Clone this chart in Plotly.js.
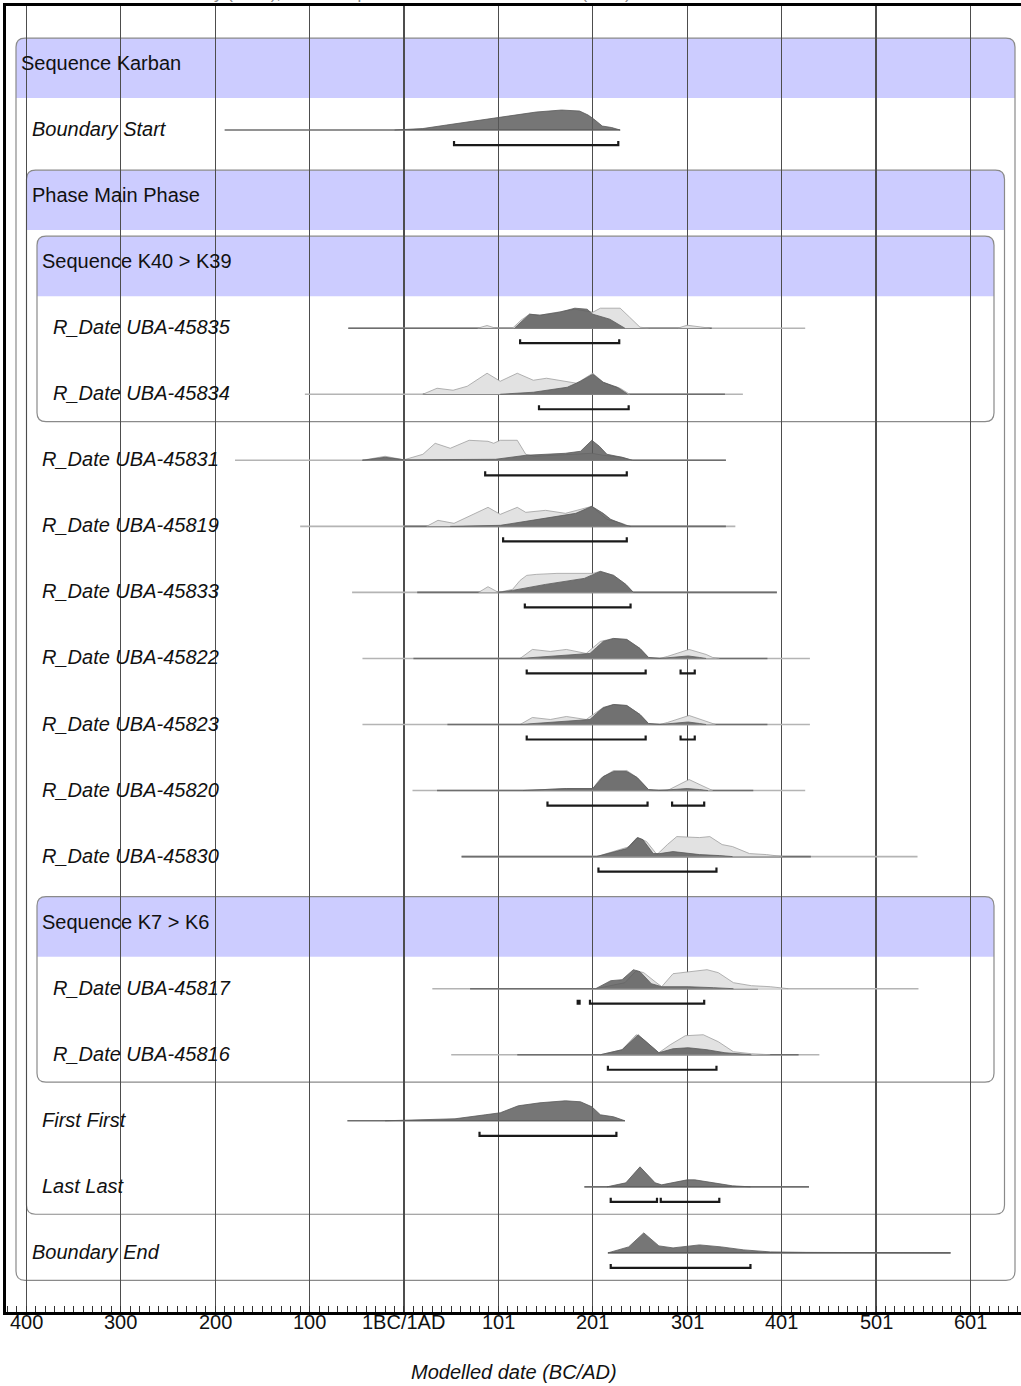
<!DOCTYPE html>
<html><head><meta charset="utf-8">
<script src="https://cdn.plot.ly/plotly-3.0.1.min.js"></script>
<style>html,body{margin:0;padding:0;background:#fff;} #chart{width:1021px;height:1386px;}</style>
</head><body><div id="chart"></div>
<script>
// ---------- axis ticks ----------
const tickVals = [-400, -300, -200, -100, 0, 100, 200, 300, 400, 500, 600];
const tickText = ['400', '300', '200', '100', '1BC/1AD', '101', '201', '301', '401', '501', '601'];

// ---------- row labels ----------
const rowLabels = ['Sequence Karban', 'Boundary Start', 'Phase Main Phase', 'Sequence K40 > K39',
  'R_Date UBA-45835', 'R_Date UBA-45834', 'R_Date UBA-45831', 'R_Date UBA-45819', 'R_Date UBA-45833',
  'R_Date UBA-45822', 'R_Date UBA-45823', 'R_Date UBA-45820', 'R_Date UBA-45830', 'Sequence K7 > K6',
  'R_Date UBA-45817', 'R_Date UBA-45816', 'First First', 'Last Last', 'Boundary End'];
const rowLevels = [0, 1, 1, 2, 3, 3, 2, 2, 2, 2, 2, 2, 2, 2, 3, 3, 2, 2, 1];
const rowIsHeader = [true, false, true, true, false, false, false, false, false, false, false, false, false, true, false, false, false, false, false];

// groups: [header row, last row, nesting level]
const groupHeaderRows = [0, 2, 3, 13];
const groupLastRows = [18, 17, 5, 15];
const groupLevels = [0, 1, 2, 2];

// ---------- distributions (year, relative density) ----------
const startX = [-10, 20, 45, 75, 100, 115, 140, 167, 186, 195, 201, 210, 220, 229];
const startP = [0, 1.5, 5, 9, 13, 15, 18, 20, 19, 15, 11, 4, 2.5, 0];
const startRange = [-190, 229];
const startHpd = [[53, 227]];

const d45835PriorX = [78, 88, 97, 115, 124, 133, 144, 165, 181, 194, 200, 208, 229, 239, 250, 260, 290, 300, 315, 324];
const d45835PriorP = [0, 2.7, 0, 0, 8, 14, 13, 16, 19, 17, 16, 20, 20, 11, 1, 0, 0, 3, 1, 0];
const d45835PostX = [117, 133, 144, 165, 181, 194, 200, 218, 234];
const d45835PostP = [0, 14, 13, 16, 20, 19, 14, 9, 0];
const d45835PriorRange = [-59, 425];
const d45835PostRange = [-59, 326];
const d45835Hpd = [[123, 228]];

const d45834PriorX = [20, 35, 52, 67, 88, 102, 120, 137, 151, 173, 183, 200, 211, 221, 229, 239];
const d45834PriorP = [0, 6, 4, 8, 21, 13, 21, 14, 16, 13, 11, 21, 12, 8, 6, 0];
const d45834PostX = [102, 137, 173, 187, 200, 211, 226, 237];
const d45834PostP = [0, 2, 7, 13, 20, 12, 7, 0];
const d45834PriorRange = [-105, 359];
const d45834PostRange = [20, 340];
const d45834Hpd = [[143, 238]];

const d45831PriorX = [-44, -20, 0, 20, 33, 49, 69, 89, 95, 102, 120, 129, 138, 171, 199, 211, 231, 242];
const d45831PriorP = [0, 4, 0.5, 6, 17, 12, 20, 19, 17, 20, 20, 6, 4, 6, 7, 5, 3, 0];
const d45831PostX = [-44, -20, 0, 97, 129, 171, 187, 199, 207, 215, 231, 242];
const d45831PostP = [0, 3, 0.5, 1, 5, 7, 9, 20, 14, 6, 3, 0];
const d45831PriorRange = [-179, 341];
const d45831PostRange = [-44, 341];
const d45831Hpd = [[86, 236]];

const d45819PriorX = [24, 36, 53, 69, 89, 102, 120, 129, 150, 171, 199, 215, 231, 239];
const d45819PriorP = [0, 6, 3, 10, 19, 12, 19, 14, 16, 13, 20, 7, 3, 0];
const d45819PostX = [49, 102, 129, 158, 182, 199, 211, 219, 235, 240];
const d45819PostP = [0, 1, 5, 9, 13, 20, 13, 7, 1, 0];
const d45819PriorRange = [-110, 351];
const d45819PostRange = [0, 341];
const d45819Hpd = [[105, 236]];

const d45833PriorX = [79, 89, 100, 115, 123, 130, 140, 162, 194, 200, 208, 222, 235, 243];
const d45833PriorP = [0, 5.7, 0, 3, 12, 17, 18, 19, 19, 19, 21, 17, 8, 0];
const d45833PostX = [100, 115, 150, 191, 208, 222, 235, 243];
const d45833PostP = [0, 2, 8, 14, 21, 17, 8, 0];
const d45833PriorRange = [-55, 395];
const d45833PostRange = [14, 395];
const d45833Hpd = [[128, 240]];

const d45822PriorX = [123, 136, 155, 172, 193, 208, 222, 236, 250, 259, 271, 279, 302, 320, 327, 334];
const d45822PriorP = [0, 9, 7, 9, 5, 17, 20, 19, 10, 1, 0, 2, 9, 4, 1, 0];
const d45822PostX = [123, 155, 197, 204, 211, 222, 236, 250, 259, 271, 290, 301, 313, 320];
const d45822PostP = [0, 2, 5, 11, 17, 20, 19, 10, 1, 0, 1.5, 2.5, 1, 0];
const d45822PriorRange = [-44, 430];
const d45822PostRange = [10, 385];
const d45822Hpd = [[130, 256], [293, 308]];

const d45823PriorX = [123, 136, 155, 172, 193, 208, 222, 236, 250, 259, 271, 279, 302, 320, 330];
const d45823PriorP = [0, 7, 5, 8, 5, 15, 20, 19, 10, 1, 0, 2, 9, 3, 0];
const d45823PostX = [123, 155, 197, 204, 211, 222, 236, 250, 259, 271, 290, 301, 313, 320];
const d45823PostP = [0, 2, 5, 11, 17, 20, 19, 10, 1, 0, 1.5, 2.5, 1, 0];
const d45823PriorRange = [-44, 430];
const d45823PostRange = [46, 385];
const d45823Hpd = [[130, 256], [293, 308]];

const d45820PriorX = [126, 172, 200, 208, 222, 236, 247, 259, 279, 302, 320, 327];
const d45820PriorP = [0, 2, 2, 12, 20, 20, 13, 1, 0, 11, 3, 0];
const d45820PostX = [126, 172, 200, 211, 222, 236, 247, 259, 270, 290, 300, 313, 322];
const d45820PostP = [0, 2, 2, 14, 19, 19, 13, 1, 0, 1, 2, 1, 0];
const d45820PriorRange = [9, 425];
const d45820PostRange = [35, 370];
const d45820Hpd = [[152, 258], [284, 318]];

const d45830PriorX = [204, 221, 239, 248, 257, 268, 279, 289, 313, 324, 337, 348, 366, 384, 401];
const d45830PriorP = [0, 5, 10, 19, 15, 2, 12, 20, 19, 20, 12, 10, 3, 2, 0];
const d45830PostX = [204, 221, 236, 247, 253, 264, 271, 285, 300, 313, 334, 348];
const d45830PostP = [0, 4, 8, 19, 17, 3, 3, 5, 3, 2, 1, 0];
const d45830PriorRange = [61, 544];
const d45830PostRange = [61, 431];
const d45830Hpd = [[206, 331]];

const d45817PriorX = [203, 222, 234, 246, 254, 266, 273, 285, 301, 321, 333, 349, 368, 388, 407];
const d45817PriorP = [0, 4, 6, 18, 16, 7, 2, 15, 17, 19, 16, 6, 3, 2, 0];
const d45817PostX = [203, 219, 231, 243, 250, 262, 273, 301, 328, 349];
const d45817PostP = [0, 8, 9, 19, 17, 5, 2, 2, 1, 0];
const d45817PriorRange = [30, 545];
const d45817PostRange = [70, 375];
const d45817Hpd = [[184, 186], [197, 318]];

const d45816PriorX = [208, 231, 246, 254, 270, 282, 298, 317, 333, 349, 368, 388];
const d45816PriorP = [0, 5, 20, 15, 2, 10, 19, 20, 13, 3, 1, 0];
const d45816PostX = [208, 231, 248, 258, 270, 285, 301, 321, 340, 368];
const d45816PostP = [0, 5, 20, 12, 2, 6, 7, 5, 2, 0];
const d45816PriorRange = [50, 440];
const d45816PostRange = [120, 418];
const d45816Hpd = [[216, 331]];

const firstX = [-20, 54, 86, 102, 121, 144, 171, 187, 199, 208, 222, 234];
const firstP = [0, 2, 6, 8, 15, 18, 20, 19, 14, 6, 4, 0];
const firstRange = [-60, 234];
const firstHpd = [[80, 225]];

const lastX = [215, 235, 250, 266, 273, 300, 308, 328, 348, 367];
const lastP = [0, 4, 20, 4, 2, 7, 7, 4, 1, 0];
const lastRange = [191, 429];
const lastHpd = [[219, 268], [272, 334]];

const endX = [216, 238, 254, 270, 285, 313, 336, 360, 388, 426, 579];
const endP = [0, 6, 20, 7, 5, 8, 6, 3, 1, 0.5, 0];
const endRange = [216, 579];
const endHpd = [[219, 367]];

// table built from the arrays above
const dists = [
  {row: 1, post: [startX, startP], postRange: startRange, hpd: startHpd},
  {row: 4, prior: [d45835PriorX, d45835PriorP], post: [d45835PostX, d45835PostP], priorRange: d45835PriorRange, postRange: d45835PostRange, hpd: d45835Hpd},
  {row: 5, prior: [d45834PriorX, d45834PriorP], post: [d45834PostX, d45834PostP], priorRange: d45834PriorRange, postRange: d45834PostRange, hpd: d45834Hpd},
  {row: 6, prior: [d45831PriorX, d45831PriorP], post: [d45831PostX, d45831PostP], priorRange: d45831PriorRange, postRange: d45831PostRange, hpd: d45831Hpd},
  {row: 7, prior: [d45819PriorX, d45819PriorP], post: [d45819PostX, d45819PostP], priorRange: d45819PriorRange, postRange: d45819PostRange, hpd: d45819Hpd},
  {row: 8, prior: [d45833PriorX, d45833PriorP], post: [d45833PostX, d45833PostP], priorRange: d45833PriorRange, postRange: d45833PostRange, hpd: d45833Hpd},
  {row: 9, prior: [d45822PriorX, d45822PriorP], post: [d45822PostX, d45822PostP], priorRange: d45822PriorRange, postRange: d45822PostRange, hpd: d45822Hpd},
  {row: 10, prior: [d45823PriorX, d45823PriorP], post: [d45823PostX, d45823PostP], priorRange: d45823PriorRange, postRange: d45823PostRange, hpd: d45823Hpd},
  {row: 11, prior: [d45820PriorX, d45820PriorP], post: [d45820PostX, d45820PostP], priorRange: d45820PriorRange, postRange: d45820PostRange, hpd: d45820Hpd},
  {row: 12, prior: [d45830PriorX, d45830PriorP], post: [d45830PostX, d45830PostP], priorRange: d45830PriorRange, postRange: d45830PostRange, hpd: d45830Hpd},
  {row: 14, prior: [d45817PriorX, d45817PriorP], post: [d45817PostX, d45817PostP], priorRange: d45817PriorRange, postRange: d45817PostRange, hpd: d45817Hpd},
  {row: 15, prior: [d45816PriorX, d45816PriorP], post: [d45816PostX, d45816PostP], priorRange: d45816PriorRange, postRange: d45816PostRange, hpd: d45816Hpd},
  {row: 16, post: [firstX, firstP], postRange: firstRange, hpd: firstHpd},
  {row: 17, post: [lastX, lastP], postRange: lastRange, hpd: lastHpd},
  {row: 18, post: [endX, endP], postRange: endRange, hpd: endHpd}
];

// ---------- styling / geometry constants ----------
const FONT = 'Liberation Sans, Arial, sans-serif';
const ROW_PX = 66.05;          // pixels per row
const HSCALE = 1 / ROW_PX;     // density units -> row units
const BASE_OFF = 0.015;
const HPD_OFF = 15 / ROW_PX;
const HPD_TICK = 4 / ROW_PX;
const PLOT_L = 6, PLOT_W = 1015, PLOT_H = 1306;
const px2paper = p => (p - PLOT_L) / PLOT_W;

const traces = [];
function rangeTrace(r, row, color) {
  const b = row + BASE_OFF;
  return {x: [r[0], r[1]], y: [b, b], mode: 'lines', line: {color: color, width: 1.6}, hoverinfo: 'skip'};
}
function distTrace(d, row, fill, lc) {
  const b = row + BASE_OFF;
  return {x: d[0], y: d[1].map(p => b - p * HSCALE), mode: 'lines', fill: 'toself', fillcolor: fill,
    line: {color: lc, width: 0.8}, hoverinfo: 'skip'};
}
function hpdTrace(ranges, row) {
  const yb = row + BASE_OFF + HPD_OFF;
  const xs = [], ys = [];
  ranges.forEach(r => {
    xs.push(r[0], r[0], r[1], r[1], null);
    ys.push(yb - HPD_TICK, yb, yb, yb - HPD_TICK, null);
  });
  return {x: xs, y: ys, mode: 'lines', line: {color: '#1a1a1a', width: 2.2}, hoverinfo: 'skip', connectgaps: false};
}
dists.forEach(d => {
  if (d.priorRange) traces.push(rangeTrace(d.priorRange, d.row, '#b4b4b4'));
  if (d.postRange) traces.push(rangeTrace(d.postRange, d.row, '#6e6e6e'));
  if (d.prior) traces.push(distTrace(d.prior, d.row, '#e2e2e2', '#a0a0a0'));
  if (d.post) traces.push(distTrace(d.post, d.row, 'rgba(88,88,88,0.82)', '#5a5a5a'));
  traces.push(hpdTrace(d.hpd, d.row));
});

// ---------- group boxes ----------
const shapes = [];
const RX = 9 / PLOT_W, RY = 9 / ROW_PX;
groupHeaderRows.forEach((h, k) => {
  const lvl = groupLevels[k];
  const x0 = px2paper(16 + 10.5 * lvl), x1 = px2paper(1015 - 10.5 * lvl);
  const y0 = h - 0.378, yb = h + 0.53, y1 = groupLastRows[k] + 0.43;
  shapes.push({type: 'path', xref: 'paper', yref: 'y', layer: 'below',
    path: `M ${x0},${y0 + RY} Q ${x0},${y0} ${x0 + RX},${y0} L ${x1 - RX},${y0} Q ${x1},${y0} ${x1},${y0 + RY} L ${x1},${yb} L ${x0},${yb} Z`,
    fillcolor: '#ccccff', line: {width: 0}});
  shapes.push({type: 'path', xref: 'paper', yref: 'y', layer: 'below',
    path: `M ${x0 + RX},${y0} L ${x1 - RX},${y0} Q ${x1},${y0} ${x1},${y0 + RY} L ${x1},${y1 - RY} Q ${x1},${y1} ${x1 - RX},${y1} L ${x0 + RX},${y1} Q ${x0},${y1} ${x0},${y1 - RY} L ${x0},${y0 + RY} Q ${x0},${y0} ${x0 + RX},${y0} Z`,
    fillcolor: 'rgba(0,0,0,0)', line: {color: '#8a8a8a', width: 1.2}});
});
// white mask under the axis line so nothing but the tick labels shows there
shapes.push({type: 'rect', xref: 'paper', yref: 'paper', layer: 'above',
  x0: -0.01, x1: 1.01, y0: -0.06, y1: -3.2 / PLOT_H, fillcolor: '#ffffff', line: {width: 0}});

// ---------- labels ----------
const annotations = rowLabels.map((t, i) => ({
  text: t, xref: 'paper', yref: 'y', x: px2paper(22 + 10.5 * rowLevels[i] - 3), y: i,
  xanchor: 'left', yanchor: 'middle', showarrow: false,
  font: {family: FONT, size: 20, color: '#111', style: rowIsHeader[i] ? 'normal' : 'italic'}
}));
// x tick labels (placed tight under the axis line as in the reference)
tickVals.forEach((v, k) => annotations.push({
  text: tickText[k], xref: 'x', yref: 'paper', x: v, y: 0, yshift: -10,
  xanchor: 'center', yanchor: 'middle', showarrow: false,
  font: {family: FONT, size: 20, color: '#111'}
}));
annotations.push({text: 'Modelled date (BC/AD)', xref: 'paper', yref: 'paper', x: 0.5, y: 0, yshift: -60,
  xanchor: 'center', yanchor: 'middle', showarrow: false, font: {family: FONT, size: 20, color: '#111', style: 'italic'}});
annotations.push({text: 'OxCal v4.4.4 Bronk Ramsey (2021); r:5 Atmospheric data from Reimer et al (2020)',
  xref: 'paper', yref: 'paper', x: 0, y: 1, xanchor: 'left', yanchor: 'bottom', yshift: 1, showarrow: false,
  font: {family: FONT, size: 17, color: '#888'}});

const layout = {
  width: 1021, height: 1386,
  margin: {l: PLOT_L, r: 0, t: 6, b: 74, pad: 0},
  paper_bgcolor: '#fff', plot_bgcolor: '#fff', showlegend: false,
  xaxis: {range: [-421.6, 653.6], tickmode: 'array', tickvals: tickVals, ticktext: tickText,
    showticklabels: false, ticks: '',
    showline: true, linecolor: '#000', linewidth: 3, mirror: true,
    showgrid: true, gridcolor: '#4d4d4d', gridwidth: 1.2, zeroline: false,
    minor: {tick0: 0, dtick: 10, ticks: 'inside', ticklen: 6, tickwidth: 1, tickcolor: '#333', showgrid: false},
    fixedrange: true},
  yaxis: {range: [18.91, -0.863], showline: true, linecolor: '#000', linewidth: 3,
    showgrid: false, zeroline: false, showticklabels: false, ticks: '', fixedrange: true},
  shapes: shapes, annotations: annotations
};

Plotly.newPlot('chart', traces, layout, {displayModeBar: false, staticPlot: true});
</script>
</body></html>
